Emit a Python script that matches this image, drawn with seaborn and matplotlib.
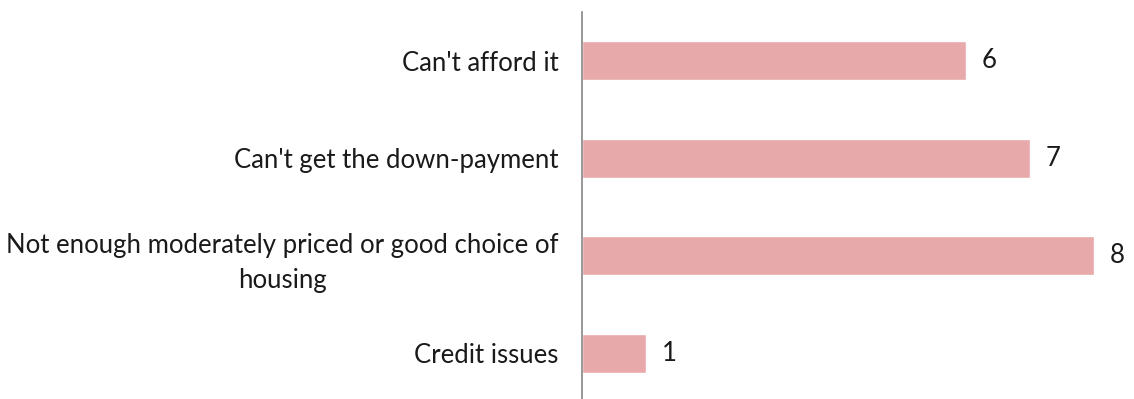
import seaborn as sns
import pandas as pd
import matplotlib.pyplot as plt

# data
reasons = [
    "Can't afford it",
    "Can't get the down-payment",
    "Not enough moderately priced or good choice of\nhousing",
    "Credit issues",
]
counts = [6, 7, 8, 1]

df = pd.DataFrame({"Reason": reasons, "Count": counts})

sns.set_theme(style="white")
plt.rcParams["font.family"] = ["Lato", "DejaVu Sans"]

fig = plt.figure(figsize=(11.34, 3.99), dpi=100)
ax = fig.add_axes([582 / 1134, -0.0075, 1 - 582 / 1134, 390 / 399])

sns.barplot(
    data=df,
    x="Count",
    y="Reason",
    orient="h",
    color="#E8A9AA",
    saturation=1,
    width=0.4,
    ax=ax,
)

for i, v in enumerate(counts):
    ax.text(v + 0.25, i, str(v), va="center", ha="left",
            fontsize=18.5, color="#1a1a1a")

ax.set_xlim(0, 552 / 64)
ax.set_ylim(3.5, -0.5)
ax.set_xlabel("")
ax.set_ylabel("")
ax.set_xticks([])

for side in ["top", "right", "bottom"]:
    ax.spines[side].set_visible(False)
ax.spines["left"].set_color("#868686")
ax.spines["left"].set_linewidth(1.2)

ax.tick_params(axis="y", length=0, pad=17, labelsize=18.5, labelcolor="#1a1a1a")
for lbl in ax.get_yticklabels():
    lbl.set_multialignment("center")
    lbl.set_linespacing(1.5)

fig.savefig("out.png", dpi=100)
